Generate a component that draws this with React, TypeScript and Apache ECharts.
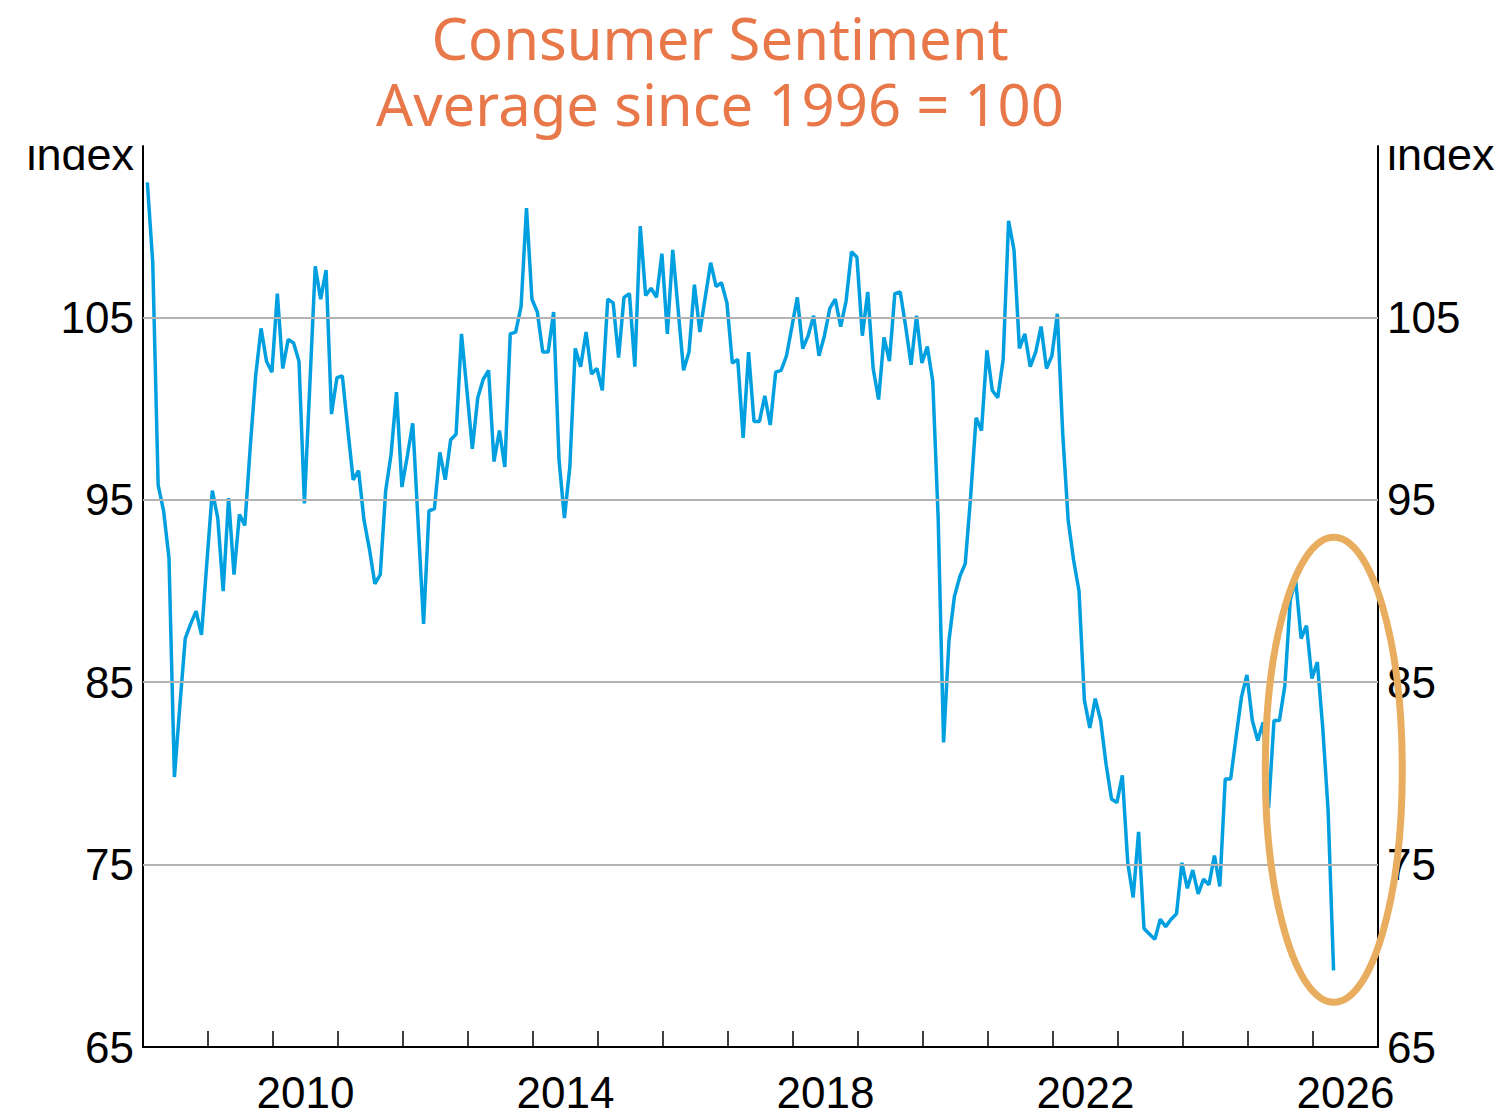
import React, { useEffect, useRef } from "react";
import * as echarts from "echarts";

// Monthly consumer sentiment index (average since 1996 = 100), Jan 2008 onwards
const values2008_2010: number[] = [
  112.4, 108.0, 95.8, 94.4, 91.8, 79.8, 83.7, 87.4, 88.2, 88.9, 87.6, 91.6,
  95.5, 94.0, 90.0, 95.1, 90.9, 94.2, 93.6, 97.9, 101.8, 104.4, 102.6, 102.0,
  106.3, 102.2, 103.8, 103.6, 102.6, 94.8, 101.3, 107.8, 106.0, 107.6, 99.7, 101.7,
];
const values2011_2013: number[] = [
  101.8, 98.9, 96.1, 96.6, 93.9, 92.3, 90.4, 90.9, 95.5, 97.5, 100.9, 95.7,
  97.4, 99.2, 93.7, 88.2, 94.4, 94.5, 97.6, 96.1, 98.3, 98.6, 104.1, 101.0,
  97.8, 100.6, 101.6, 102.1, 97.1, 98.8, 96.8, 104.1, 104.2, 105.6, 111.0, 106.0,
];
const values2014_2016: number[] = [
  105.3, 103.1, 103.1, 105.3, 97.2, 94.0, 96.8, 103.3, 102.3, 104.2, 101.9, 102.2,
  101.0, 106.0, 105.8, 102.8, 106.1, 106.3, 102.3, 110.0, 106.2, 106.6, 106.1, 108.5,
  104.1, 108.7, 105.4, 102.1, 103.1, 106.8, 104.2, 106.1, 108.0, 106.7, 106.9, 105.8,
];
const values2017_2019: number[] = [
  102.5, 102.7, 98.4, 103.1, 99.3, 99.3, 100.7, 99.1, 102.0, 102.1, 102.9, 104.5,
  106.1, 103.3, 104.0, 105.1, 102.9, 104.0, 105.5, 106.0, 104.5, 105.9, 108.6, 108.3,
  104.0, 106.4, 102.2, 100.5, 103.9, 102.6, 106.3, 106.4, 104.5, 102.4, 105.1, 102.5,
];
const values2020_2022: number[] = [
  103.4, 101.5, 94.0, 81.7, 87.3, 89.7, 90.8, 91.5, 95.2, 99.5, 98.8, 103.2,
  101.0, 100.6, 102.7, 110.3, 108.7, 103.3, 104.1, 102.3, 103.1, 104.5, 102.2, 102.9,
  105.2, 98.6, 93.9, 91.7, 90.0, 84.0, 82.5, 84.1, 82.9, 80.5, 78.6, 78.4,
];
const values2023_2026: number[] = [
  79.9, 75.1, 73.2, 76.8, 71.5, 71.2, 70.9, 72.0, 71.6, 72.0, 72.3, 75.1,
  73.7, 74.7, 73.4, 74.2, 73.9, 75.5, 73.8, 79.7, 79.7, 82.0, 84.2, 85.4,
  82.9, 81.8, 82.8, 78.1, 82.9, 82.9, 84.8, 89.5, 90.6, 87.4, 88.1, 85.2,
  86.1, 82.5, 77.9, 69.2,
];

const startYear = 2008;
const monthOffset = 0.8;
const categories: string[] = [
  "2008", "2009", "2010", "2011", "2012", "2013", "2014", "2015", "2016", "2017",
  "2018", "2019", "2020", "2021", "2022", "2023", "2024", "2025", "2026",
];
const xTickLabels: string[] = ["2010", "2014", "2018", "2022", "2026"];
const yGridValues: number[] = [75, 85, 95, 105];
const yMin = 65;
const yMax = 114.4;
const yInterval = 10;

const titleLines: string[] = ["Consumer Sentiment", "Average since 1996 = 100"];
const highlightCentre: number[] = [2026.32, 80.2];

const allValues = [
  ...values2008_2010,
  ...values2011_2013,
  ...values2014_2016,
  ...values2017_2019,
  ...values2020_2022,
  ...values2023_2026,
];
const seriesData = allValues.map((v, k) => [startYear + (k + monthOffset) / 12, v]);

const FONT = "'Liberation Sans', Arial, sans-serif";
const TITLE_FONT = "'Noto Sans', 'Open Sans', sans-serif";

export default function App() {
  const ref = useRef<HTMLDivElement>(null);
  useEffect(() => {
    if (!ref.current) return;
    const chart = echarts.init(ref.current, undefined, { renderer: "svg" });
    const axisLine = { show: true, lineStyle: { color: "#000", width: 2 } };
    const yLabel = (v: number) => (Math.abs(v % yInterval - 5) < 0.001 ? String(v) : "");
    chart.setOption({
      animation: false,
      backgroundColor: "#fff",
      grid: { left: 143, right: 129, top: 146, bottom: 68, containLabel: false },
      xAxis: [
        {
          type: "category",
          data: categories,
          boundaryGap: true,
          axisLine,
          axisTick: { show: true, inside: true, length: 16, interval: 0, lineStyle: { color: "#000", width: 1.5 } },
          axisLabel: {
            interval: (_i: number, val: string) => xTickLabels.indexOf(val) >= 0,
            fontSize: 44,
            fontFamily: FONT,
            color: "#000",
            margin: 23,
          },
          splitLine: { show: false },
        },
        { type: "value", min: startYear, max: startYear + categories.length, show: false },
      ],
      yAxis: [
        {
          type: "value",
          min: yMin,
          max: yMax,
          interval: yInterval,
          position: "left",
          axisLine,
          axisTick: { show: false },
          splitLine: { show: false },
          axisLabel: { formatter: yLabel, fontSize: 44, fontFamily: FONT, color: "#000", margin: 9, showMaxLabel: false },
        },
        {
          type: "value",
          min: yMin,
          max: yMax,
          interval: yInterval,
          position: "right",
          axisLine,
          axisTick: { show: false },
          splitLine: { show: false },
          axisLabel: { formatter: yLabel, fontSize: 44, fontFamily: FONT, color: "#000", margin: 9, showMaxLabel: false },
        },
      ],
      series: [
        {
          type: "line",
          xAxisIndex: 1,
          yAxisIndex: 0,
          data: [],
          z: 1,
          silent: true,
          markLine: {
            silent: true,
            symbol: "none",
            label: { show: false },
            lineStyle: { color: "#b3b3b3", width: 2, type: "solid" },
            data: yGridValues.map((v) => ({ yAxis: v })),
          },
        },
        {
          type: "line",
          xAxisIndex: 1,
          yAxisIndex: 0,
          data: seriesData,
          showSymbol: false,
          z: 3,
          lineStyle: { color: "#009fdf", width: 3.5 },
          itemStyle: { color: "#009fdf" },
        },
      ],
    });
    const c = chart.convertToPixel({ xAxisIndex: 1, yAxisIndex: 0 }, highlightCentre) as number[];
    chart.setOption({
      graphic: [
        {
          type: "text",
          x: 720,
          y: 4,
          z: 10,
          style: {
            text: titleLines.join("\n"),
            fontSize: 58,
            lineHeight: 66,
            fontFamily: TITLE_FONT,
            fill: "#e8784a",
            align: "center",
            verticalAlign: "top",
          },
        },
        { type: "text", x: 134, y: 177, z: 5, style: { text: "index", fontSize: 45, fontFamily: FONT, fill: "#000", align: "right", verticalAlign: "bottom" } },
        { type: "text", x: 1387, y: 177, z: 5, style: { text: "index", fontSize: 45, fontFamily: FONT, fill: "#000", align: "left", verticalAlign: "bottom" } },
        { type: "rect", z: 6, shape: { x: 0, y: 130, width: 141, height: 15.5 }, style: { fill: "#fff" } },
        { type: "rect", z: 6, shape: { x: 1380, y: 130, width: 127, height: 15.5 }, style: { fill: "#fff" } },
        {
          type: "ellipse",
          z: 20,
          shape: { cx: c[0], cy: c[1], rx: 68.5, ry: 232.5 },
          style: { fill: "none", stroke: "#e8ad5e", lineWidth: 7 },
        },
      ],
    });
    return () => chart.dispose();
  }, []);
  return (
    <div
      ref={ref}
      style={{ position: "absolute", left: 0, top: 0, width: 1507, height: 1115 }}
    />
  );
}
